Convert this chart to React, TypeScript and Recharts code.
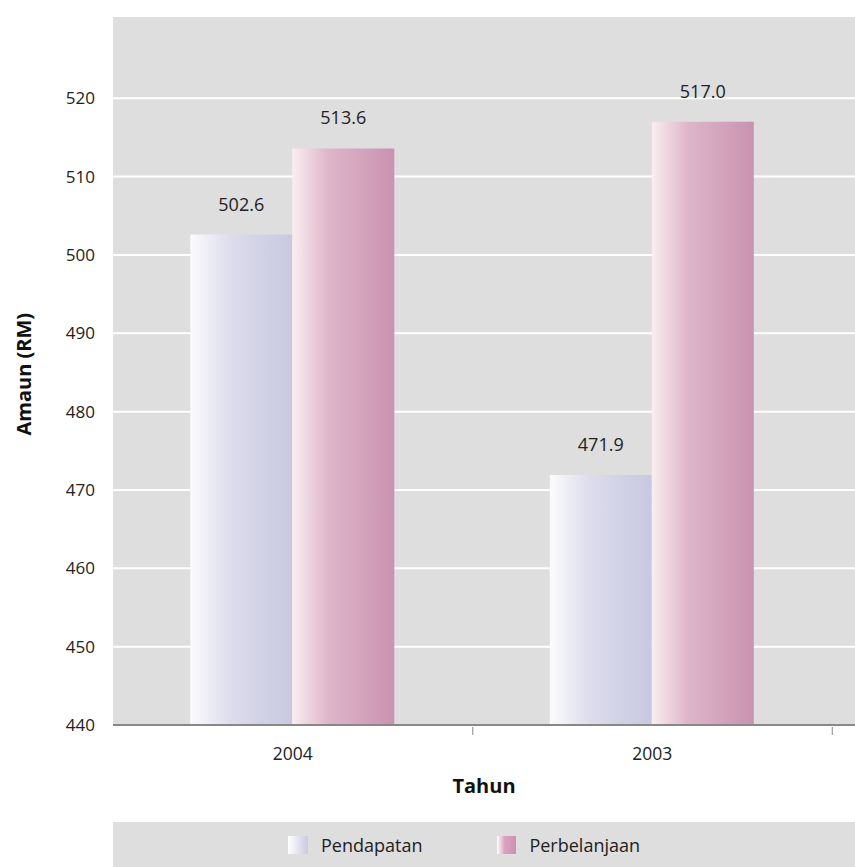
import React from 'react';
import { BarChart, Bar, XAxis, YAxis, CartesianGrid, Legend, LabelList } from 'recharts';

const years = ['2004', '2003'];
const pendapatan = [502.6, 471.9];
const perbelanjaan = [513.6, 517.0];
const yTicks = [440, 450, 460, 470, 480, 490, 500, 510, 520];
const seriesNames = ['Pendapatan', 'Perbelanjaan'];

const data = years.map((y, i) => ({ year: y, pendapatan: pendapatan[i], perbelanjaan: perbelanjaan[i] }));

const FONT = '"Open Sans", "Noto Sans", sans-serif';
const BAND = 360;

const XTick = (props: any) => {
  const { x, y, payload } = props;
  return (
    <g>
      <line x1={x + BAND / 2} x2={x + BAND / 2} y1={y - 6} y2={y + 2} stroke="#888" strokeWidth={1} />
      <text x={x} y={y + 27} textAnchor="middle" fontSize={17.5} fill="#222" fontFamily={FONT}>
        {payload.value}
      </text>
    </g>
  );
};

const LegendContent = () => (
  <div
    style={{
      background: '#dedede',
      height: 45,
      display: 'flex',
      alignItems: 'center',
      justifyContent: 'center',
      fontFamily: FONT,
      fontSize: 18,
      color: '#222',
      paddingRight: 40,
    }}
  >
    <span style={{ display: 'inline-block', width: 20, height: 18, background: 'linear-gradient(to right, #ffffff, #c9c9e2)', marginRight: 13 }} />
    <span style={{ marginRight: 75 }}>{seriesNames[0]}</span>
    <span style={{ display: 'inline-block', width: 19, height: 18, background: 'linear-gradient(to right, #ffffff, #d9a2bd 40%, #cc92b1)', marginRight: 13 }} />
    <span>{seriesNames[1]}</span>
  </div>
);

export default function App() {
  return (
    <div style={{ position: 'absolute', left: 0, top: 0, width: 855, height: 867, background: '#fff' }}>
      <BarChart
        width={855}
        height={867}
        data={data}
        margin={{ top: 16, right: 0, left: 0, bottom: 25 }}
        barCategoryGap="21.5%"
        barGap={0}
      >
        <defs>
          <linearGradient id="gPend" x1="0" y1="0" x2="1" y2="0">
            <stop offset="0%" stopColor="#fbfbfd" />
            <stop offset="40%" stopColor="#dcdcec" />
            <stop offset="100%" stopColor="#c8c8e0" />
          </linearGradient>
          <linearGradient id="gPerb" x1="0" y1="0" x2="1" y2="0">
            <stop offset="0%" stopColor="#f9eef0" />
            <stop offset="35%" stopColor="#deb6c9" />
            <stop offset="100%" stopColor="#c992b0" />
          </linearGradient>
        </defs>
        <CartesianGrid vertical={false} stroke="#ffffff" strokeWidth={2} fill="#dedede" />
        <XAxis
          dataKey="year"
          padding={{ left: 0, right: 23 }}
          axisLine={{ stroke: '#888', strokeWidth: 2 }}
          tickLine={false}
          tick={<XTick />}
          height={72}
          interval={0}
          label={{ value: 'Tahun', position: 'insideBottom', offset: 0, dy: -4, fontSize: 20, fontWeight: 700, fill: '#111', fontFamily: FONT }}
        />
        <YAxis
          domain={[440, 530.5]}
          ticks={yTicks}
          allowDataOverflow
          axisLine={false}
          tickLine={false}
          width={113}
          tick={{ fontSize: 17, fill: '#222', fontFamily: FONT }}
          tickMargin={12}
          label={{ value: 'Amaun (RM)', angle: -90, position: 'insideLeft', offset: 24, dy: 65, fontSize: 20, fontWeight: 700, fill: '#111', fontFamily: FONT }}
        />
        <Legend
          content={<LegendContent />}
          wrapperStyle={{ position: 'absolute', left: 113, top: 822, width: 742, height: 45 }}
        />
        <Bar dataKey="pendapatan" name={seriesNames[0]} fill="url(#gPend)" isAnimationActive={false}>
          <LabelList dataKey="pendapatan" position="top" offset={24} fontSize={18} fill="#222" fontFamily={FONT} formatter={(v: any) => Number(v).toFixed(1)} />
        </Bar>
        <Bar dataKey="perbelanjaan" name={seriesNames[1]} fill="url(#gPerb)" isAnimationActive={false}>
          <LabelList dataKey="perbelanjaan" position="top" offset={24} fontSize={18} fill="#222" fontFamily={FONT} formatter={(v: any) => Number(v).toFixed(1)} />
        </Bar>
      </BarChart>
    </div>
  );
}
